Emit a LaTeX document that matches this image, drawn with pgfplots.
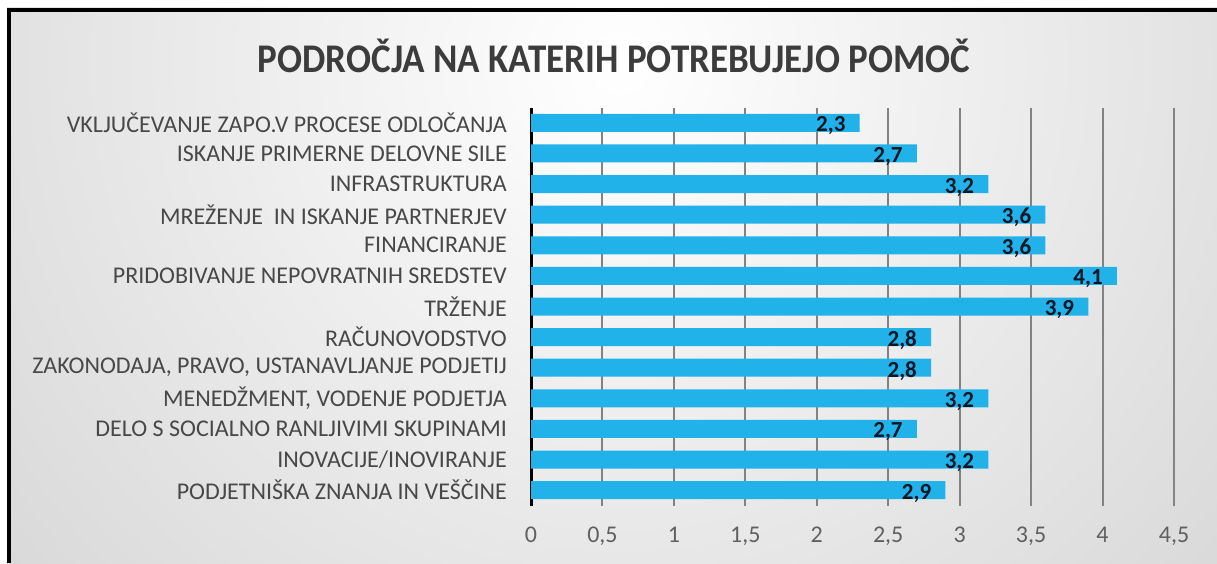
\documentclass[border=0pt]{standalone}
\usepackage{fontspec}
\setmainfont{Carlito}
\usepackage{graphicx}
\usepackage{pgfplots}
\pgfplotsset{compat=1.18}
\definecolor{barblue}{RGB}{32,178,233}
\definecolor{bgedge}{RGB}{178,178,178}
\definecolor{labgray}{RGB}{72,72,72}
\definecolor{tickgray}{RGB}{96,96,96}
\definecolor{gridgray}{RGB}{130,130,130}
\definecolor{titlegray}{RGB}{60,60,60}
\definecolor{darklab}{RGB}{12,22,36}

\pgfplotstableread{
y val
0 2.3
1 2.7
2 3.2
3 3.6
4 3.6
5 4.1
6 3.9
7 2.8
8 2.8
9 3.2
10 2.7
11 3.2
12 2.9
}\datatable

\begin{document}
\begin{tikzpicture}[x=1pt,y=1pt]
\useasboundingbox (0,0) rectangle (1217,563);
\fill[white] (0,0) rectangle (1217,563);
\begin{scope}
\clip (7,0) rectangle (1217,555);
\shade[inner color=white, outer color=bgedge] (620,500) circle (1600);
\end{scope}
\draw[black, line width=4pt] (9,0) -- (9,553) -- (1217,553);
\node[text=titlegray, inner sep=0pt] at (614,507) {\scalebox{1}[1.1]{\fontsize{37}{42}\selectfont\bfseries PODROČJA NA KATERIH POTREBUJEJO POMOČ}};
\begin{axis}[
  at={(531pt,57.5pt)}, anchor=south west,
  scale only axis, width=643pt, height=398pt,
  xbar, bar width=18pt,
  xmin=0, xmax=4.5, ymin=-0.5, ymax=12.5, y dir=reverse,
  ytick={0,...,12},
  yticklabels={
    VKLJUČEVANJE ZAPO.V PROCESE ODLOČANJA\hspace{5pt},
    ISKANJE PRIMERNE DELOVNE SILE,
    INFRASTRUKTURA\hspace{5pt},
    MREŽENJE\ \ IN ISKANJE PARTNERJEV,
    FINANCIRANJE\hspace{5pt},
    PRIDOBIVANJE NEPOVRATNIH SREDSTEV\hspace{6pt},
    TRŽENJE,
    RAČUNOVODSTVO,
    {ZAKONODAJA, PRAVO, USTANAVLJANJE PODJETIJ},
    {MENEDŽMENT, VODENJE PODJETJA},
    DELO S SOCIALNO RANLJIVIMI SKUPINAMI,
    INOVACIJE/INOVIRANJE\hspace{5pt},
    PODJETNIŠKA ZNANJA IN VEŠČINE},
  xtick={0,0.5,...,4.5},
  xmajorgrids, grid style={gridgray, line width=2pt},
  axis lines*=left,
  x axis line style={draw=none},
  y axis line style={black, line width=3pt},
  major tick length=0pt,
  yticklabel style={font=\fontsize{24}{26}\selectfont, text=labgray, anchor=east, inner sep=0pt, xshift=-24pt},
  xticklabel style={font=\fontsize{24}{26}\selectfont, text=tickgray, anchor=north, inner sep=0pt, yshift=-21pt},
  /pgf/number format/use comma,
  /pgf/number format/assume math mode=true,
  point meta=x,
  nodes near coords,
  nodes near coords style={anchor=east, inner sep=0pt, font=\fontsize{23}{25}\selectfont\bfseries, text=darklab, xshift=-14pt, yshift=-3pt,
     /pgf/number format/.cd, fixed, precision=1, fixed zerofill, use comma, assume math mode=true},
]
\addplot[fill=barblue, draw=none] table[x=val, y=y] {\datatable};
\end{axis}
\end{tikzpicture}
\end{document}
